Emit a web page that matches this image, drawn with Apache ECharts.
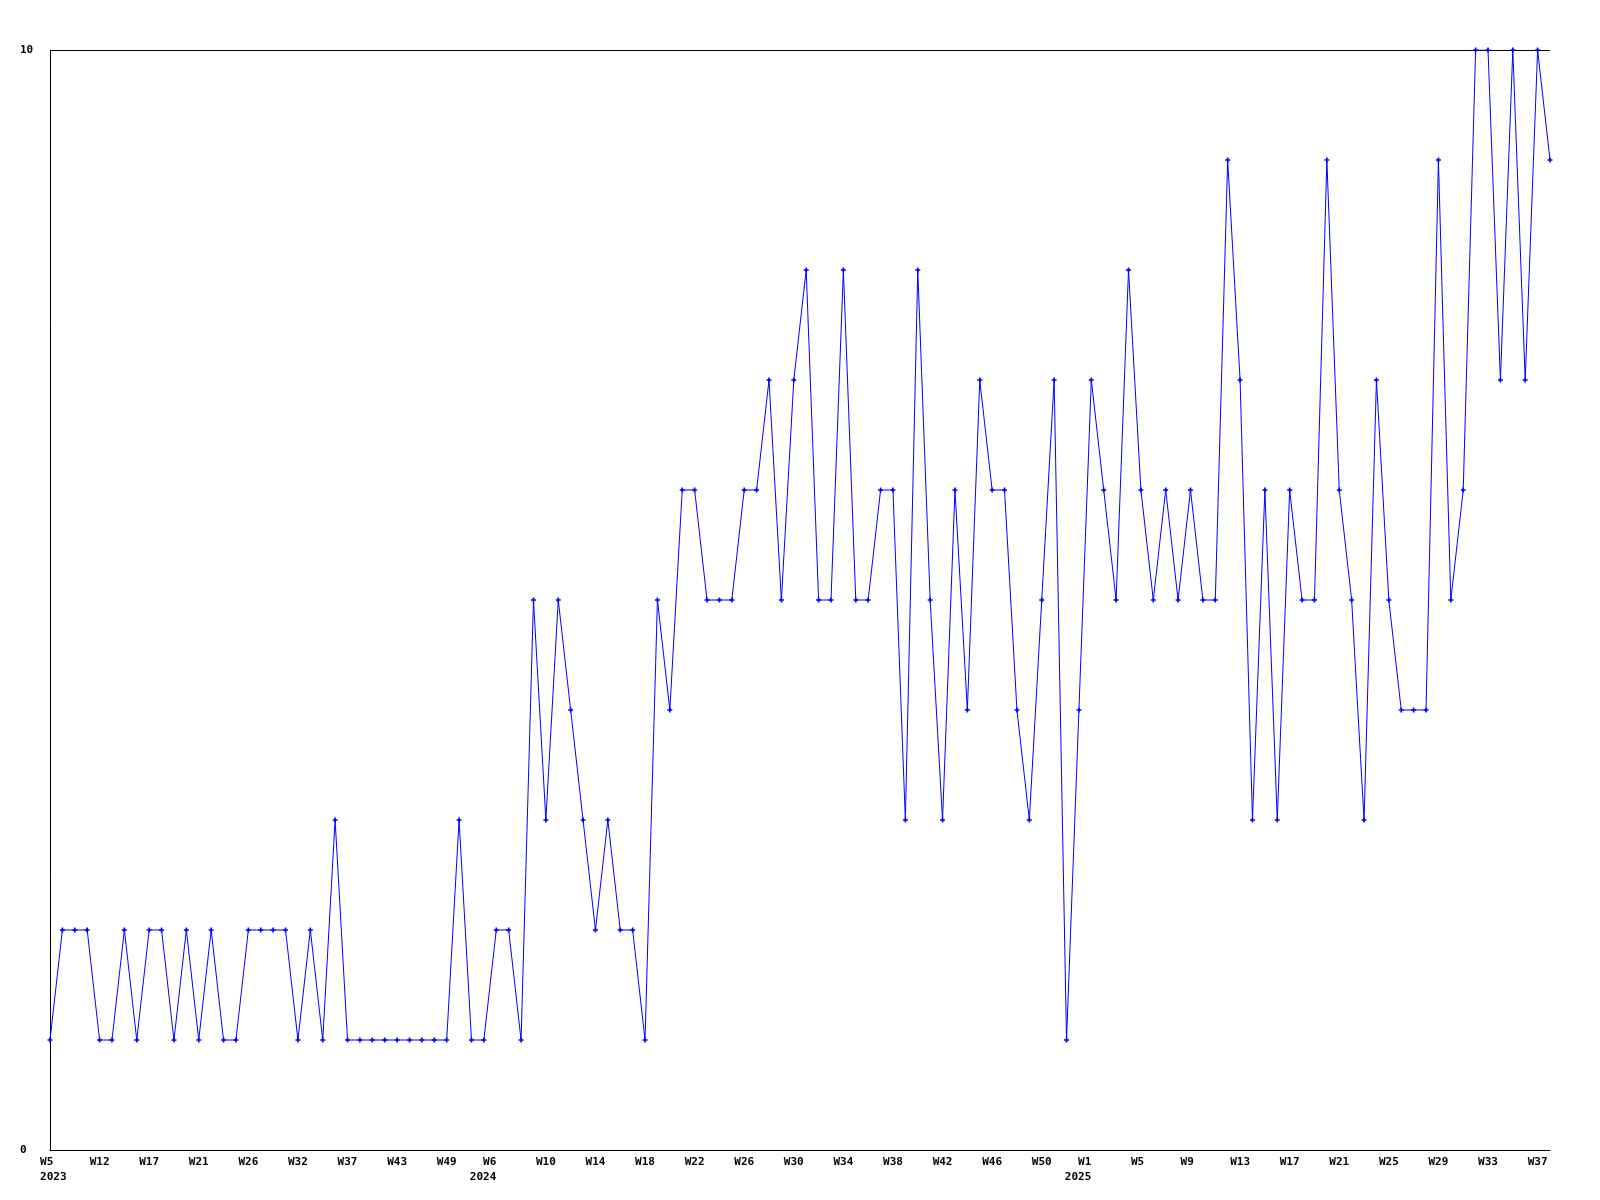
<!DOCTYPE html>
<html>
<head>
<meta charset="utf-8">
<script src="https://cdn.jsdelivr.net/npm/echarts@6/dist/echarts.min.js"></script>
<style>
  html, body { margin: 0; padding: 0; background: #ffffff; }
  #chart { width: 1600px; height: 1200px; }
</style>
</head>
<body>
<div id="chart"></div>
<script>
// ---- data ----
const weeks2023 = ['W5','W6','W8','W10','W12','W13','W14','W16','W17','W18','W19','W20','W21','W22','W23','W25','W26','W27','W29','W30','W32','W33','W34','W36','W37','W38','W40','W41','W43','W44','W46','W47','W49','W50','W51','W52'];
const weeks2024 = ['W6','W7','W8','W9','W10','W11','W12','W13','W14','W15','W16','W17','W18','W19','W20','W21','W22','W23','W24','W25','W26','W27','W28','W29','W30','W31','W32','W33','W34','W35','W36','W37','W38','W39','W40','W41','W42','W43','W44','W45','W46','W47','W48','W49','W50','W51','W52','W53'];
const weeks2025 = ['W1','W2','W3','W4','W5','W6','W7','W8','W9','W10','W11','W12','W13','W14','W15','W16','W17','W18','W19','W20','W21','W22','W23','W24','W25','W26','W27','W28','W29','W30','W31','W32','W33','W34','W35','W36','W37','W38'];

const values2023 = [1,2,2,2,1,1,2,1,2,2,1,2,1,2,1,1,2,2,2,2,1,2,1,3,1,1,1,1,1,1,1,1,1,3,1,1];
const values2024 = [2,2,1,5,3,5,4,3,2,3,2,2,1,5,4,6,6,5,5,5,6,6,7,5,7,8,5,5,8,5,5,6,6,3,8,5,3,6,4,7,6,6,4,3,5,7,1,4];
const values2025 = [7,6,5,8,6,5,6,5,6,5,5,9,7,3,6,3,6,5,5,9,6,5,3,7,5,4,4,4,9,5,6,10,10,7,10,7,10,9];

const years = ['2023', '2024', '2025'];
const yTicks = [0, 10];

// ---- build ----
const weekLists = [weeks2023, weeks2024, weeks2025];
const categories = [];
const yearStart = {};
weekLists.forEach((list, yi) => {
  list.forEach((w, wi) => {
    const idx = categories.length;
    if (wi === 0) yearStart[idx] = years[yi];
    categories.push({
      value: years[yi] + '-' + w,
      // first label of the later years sits right-aligned under its tick
      textStyle: (wi === 0 && yi > 0) ? { align: 'right' } : undefined
    });
  });
});
const values = values2023.concat(values2024, values2025);

const fontFam = '"DejaVu Sans Mono", "Liberation Mono", monospace';
const plusSymbol = 'path://M1,0H2V1H3V2H2V3H1V2H0V1H1Z';

const chart = echarts.init(document.getElementById('chart'), null, { renderer: 'canvas' });
chart.setOption({
  animation: false,
  backgroundColor: '#ffffff',
  grid: { left: 50, right: 50, top: 50, bottom: 50, containLabel: false },
  xAxis: {
    type: 'category',
    data: categories,
    boundaryGap: false,
    axisLine: { show: true, lineStyle: { color: '#000000', width: 1 } },
    axisTick: { show: false },
    splitLine: { show: false },
    axisLabel: {
      show: true,
      interval: 3,
      margin: 5,
      color: '#000000',
      fontFamily: fontFam,
      fontWeight: 'bold',
      fontSize: 11,
      lineHeight: 15,
      hideOverlap: false,
      formatter: (v, i) => {
        let w = v.split('-')[1];
        if (yearStart[i] && i > 0) return w + '\n' + yearStart[i];
        if (w.length < 3) w = w + ' ';
        return yearStart[i] ? w + '\n ' + yearStart[i] : w;
      }
    }
  },
  yAxis: {
    type: 'value',
    min: yTicks[0],
    max: yTicks[yTicks.length - 1],
    interval: 10,
    axisLine: { show: true, lineStyle: { color: '#000000', width: 1 } },
    axisTick: { show: false },
    splitLine: { show: true, lineStyle: { color: '#000000', width: 1 } },
    axisLabel: {
      show: true,
      align: 'left',
      margin: 30,
      color: '#000000',
      fontFamily: fontFam,
      fontWeight: 'bold',
      fontSize: 11
    }
  },
  series: [
    {
      type: 'line',
      data: values,
      showAllSymbol: true,
      symbol: plusSymbol,
      symbolSize: 5,
      lineStyle: { color: '#0000ff', width: 1 },
      itemStyle: { color: '#0000ff' },
      emphasis: { disabled: true }
    }
  ]
});
</script>
</body>
</html>
